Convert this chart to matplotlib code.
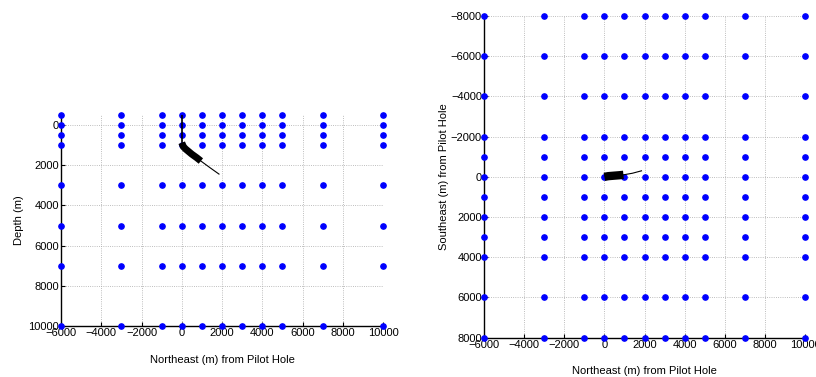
import numpy as np
import matplotlib.pyplot as plt

plt.rcParams['font.family'] = ['Liberation Sans', 'DejaVu Sans']

# grid node positions (m)
ne_cols = [-6000, -3000, -1000, 0, 1000, 2000, 3000, 4000, 5000, 7000, 10000]
depth_rows = [-500, 0, 500, 1000, 3000, 5000, 7000, 10000]
se_rows = [-8000, -6000, -4000, -2000, -1000, 0, 1000, 2000, 3000, 4000, 6000, 8000]

# well trajectory
vert_ne = [0, 0]
vert_depth = [-500, 850]
thick_ne = [0, 80, 200, 500, 750, 950]
thick_depth = [880, 1080, 1200, 1450, 1630, 1790]
thick_se = [0, -15, -35, -60, -80, -100]
tail_ne = [950, 1400, 1850]
tail_depth = [1790, 2120, 2440]
tail_se = [-100, -180, -300]

xticks = [-6000, -4000, -2000, 0, 2000, 4000, 6000, 8000, 10000]
depth_ticks = [0, 2000, 4000, 6000, 8000, 10000]
se_ticks = [-8000, -6000, -4000, -2000, 0, 2000, 4000, 6000, 8000]

fig = plt.figure(figsize=(8.16, 3.77), dpi=100)


def style(ax):
    for s in ['top', 'right']:
        ax.spines[s].set_visible(False)
    ax.spines['left'].set_linewidth(1.0)
    ax.spines['bottom'].set_linewidth(1.0)
    ax.tick_params(direction='in', length=3, labelsize=8, pad=1.5)
    ax.grid(True, linestyle=':', color='#a8a8a8', linewidth=0.6)
    ax.set_axisbelow(True)


# ---- left: depth section
ax1 = fig.add_axes([61 / 816, 51 / 377, 322 / 816, 211 / 377])
gx, gz = np.meshgrid(ne_cols, depth_rows)
ax1.plot(gx.ravel(), gz.ravel(), 'o', color='#0000ff', markersize=3.8, clip_on=False, zorder=3)
ax1.plot(vert_ne, vert_depth, color='black', linewidth=1.2, zorder=4)
ax1.plot(thick_ne, thick_depth, color='black', linewidth=5, solid_capstyle='butt', zorder=4)
ax1.plot(tail_ne, tail_depth, color='black', linewidth=0.8, zorder=4)
ax1.set_xlim(-6000, 10000)
ax1.set_ylim(10000, -500)
ax1.set_xticks(xticks)
ax1.set_yticks(depth_ticks)
style(ax1)
ax1.set_xlabel('Northeast (m) from Pilot Hole', fontsize=8, labelpad=12)
ax1.set_ylabel('Depth (m)', fontsize=8, labelpad=3)

# ---- right: plan view
ax2 = fig.add_axes([484 / 816, 39.3 / 377, 321 / 816, 321.7 / 377])
gx, gy = np.meshgrid(ne_cols, se_rows)
ax2.plot(gx.ravel(), gy.ravel(), 'o', color='#0000ff', markersize=3.8, clip_on=False, zorder=3)
ax2.plot(thick_ne, thick_se, color='black', linewidth=6, solid_capstyle='butt', zorder=4)
ax2.plot(tail_ne, tail_se, color='black', linewidth=0.8, zorder=4)
ax2.set_xlim(-6000, 10000)
ax2.set_ylim(8000, -8000)
ax2.set_xticks(xticks)
ax2.set_yticks(se_ticks)
style(ax2)
ax2.set_xlabel('Northeast (m) from Pilot Hole', fontsize=8, labelpad=12)
ax2.set_ylabel('Southeast (m) from Pilot Hole', fontsize=8, labelpad=1.5)

fig.savefig('out.png', dpi=100)
